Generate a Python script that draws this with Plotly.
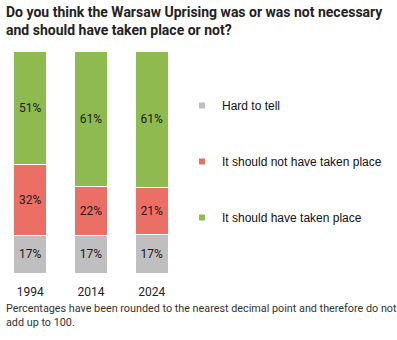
import plotly.graph_objects as go

# Survey years
years = ["1994", "2014", "2024"]

# Answer shares (%) per year
hard_to_tell = [17, 17, 17]
should_not = [32, 22, 21]
should_have = [51, 61, 61]

series_names = ["Hard to tell", "It should not have taken place", "It should have taken place"]
series_values = [hard_to_tell, should_not, should_have]
series_colors = ["#BFBFBF", "#EB6F65", "#8DBB4F"]

fig = go.Figure()

for name, vals, color in zip(series_names, series_values, series_colors):
    fig.add_trace(go.Bar(
        x=years,
        y=vals,
        name=name,
        marker=dict(color=color, line=dict(color="white", width=1)),
        text=[f"{v}%" for v in vals],
        textposition="inside",
        insidetextanchor="middle",
        textfont=dict(family="Roboto", size=12, color="#1a1a1a"),
        showlegend=False,
        hoverinfo="skip",
    ))

# Small square legend markers
for i, (name, color) in enumerate(zip(series_names, series_colors)):
    fig.add_trace(go.Scatter(
        x=[None], y=[None],
        mode="markers",
        name=name,
        legendgroup=f"g{i}",
        marker=dict(symbol="square", size=6, color=color),
        showlegend=True,
    ))

PLOT_W = 182
PLOT_H = 222

fig.update_layout(
    width=397,
    height=340,
    barmode="stack",
    barnorm="percent",
    bargap=0.455,
    plot_bgcolor="white",
    paper_bgcolor="white",
    margin=dict(l=0, r=397 - PLOT_W, t=51, b=67),
    xaxis=dict(
        showgrid=False, showline=False, zeroline=False, ticks="",
        ticklabelstandoff=10,
        tickfont=dict(family="Roboto", size=12, color="#222222"),
    ),
    yaxis=dict(
        range=[0, 100], visible=False, showgrid=False, zeroline=False,
    ),
    legend=dict(
        x=1.0, xanchor="left",
        y=(273 - 91) / PLOT_H, yanchor="top",
        traceorder="grouped",
        tracegroupgap=37,
        font=dict(family="Liberation Sans, Arial", size=12, color="#111111"),
        itemclick=False,
    ),
    annotations=[
        dict(
            text="<b>Do you think the Warsaw Uprising was or was not necessary<br>and should have taken place or not?</b>",
            xref="paper", yref="paper",
            x=4 / PLOT_W, y=(273 - 2) / PLOT_H,
            xanchor="left", yanchor="top",
            align="left",
            showarrow=False,
            font=dict(family="Roboto", size=14, color="#222222"),
        ),
        dict(
            text="Percentages have been rounded to the nearest decimal point and therefore do not<br>add up to 100.",
            xref="paper", yref="paper",
            x=4 / PLOT_W, y=(273 - 300) / PLOT_H,
            xanchor="left", yanchor="top",
            align="left",
            showarrow=False,
            font=dict(family="Roboto", size=10.8, color="#333333"),
        ),
    ],
)

fig.write_html("out.html")
